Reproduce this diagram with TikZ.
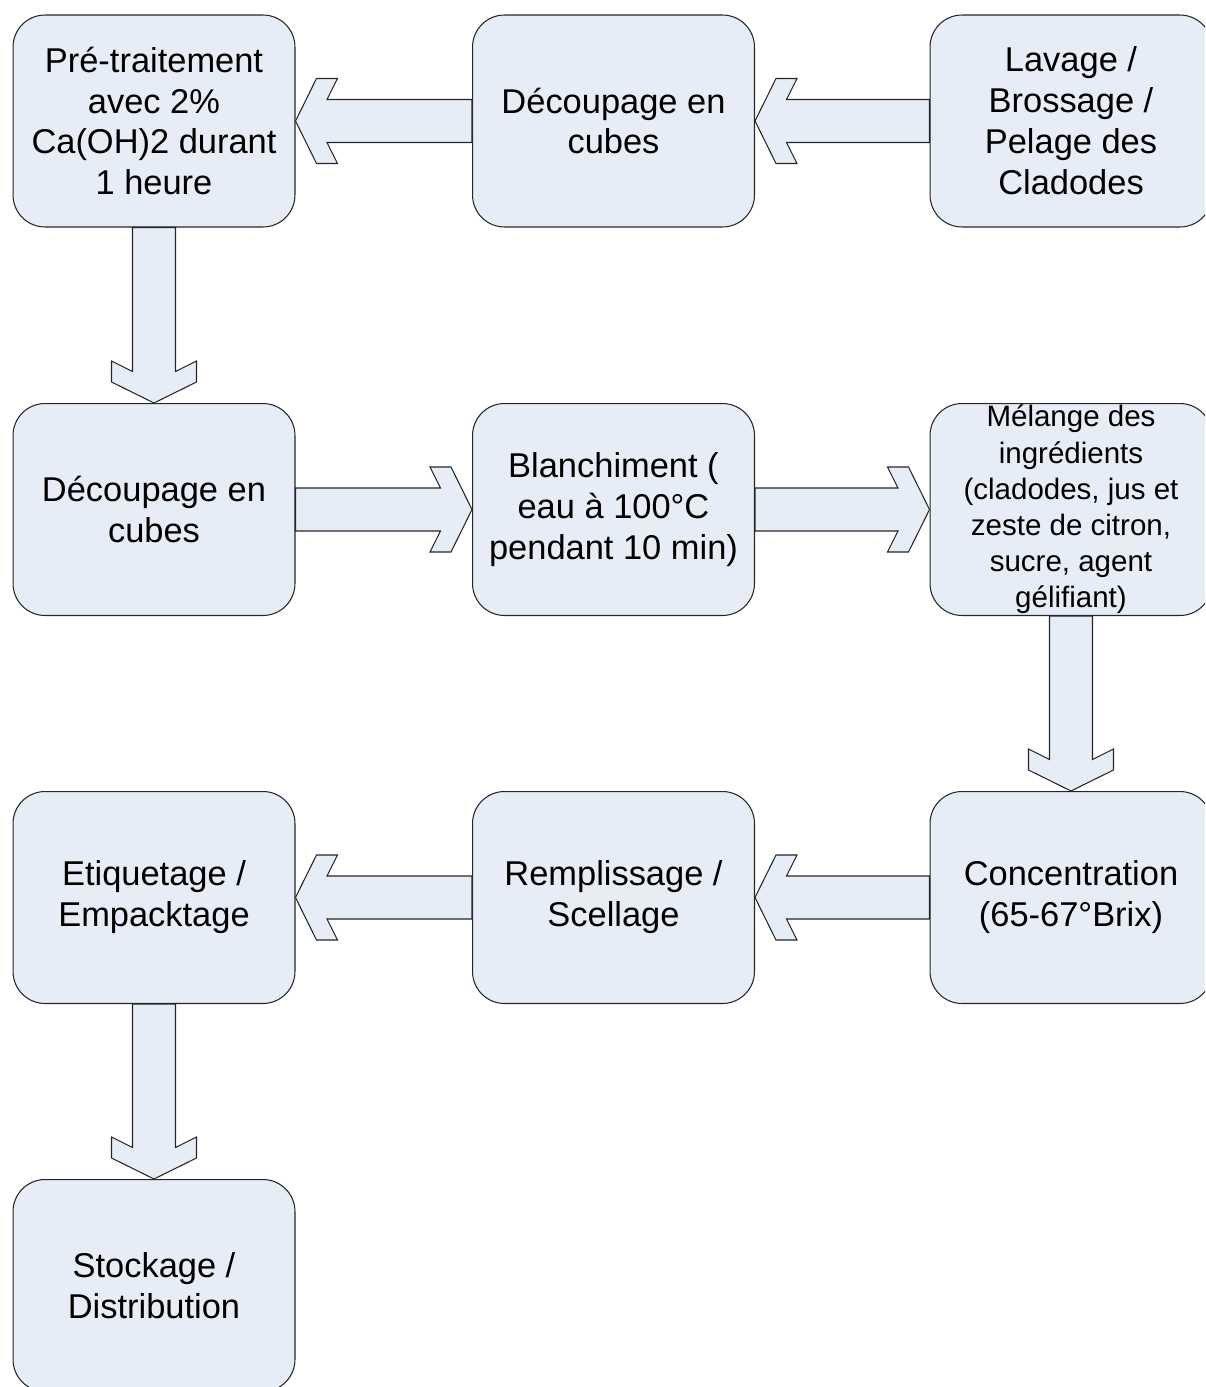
\documentclass[tikz,border=0pt]{standalone}
\usepackage{fontspec}
\setmainfont{Liberation Sans}
\usetikzlibrary{calc}

\definecolor{fondbleu}{RGB}{231,237,247}
\tikzset{
  etape/.style={draw=black!85,fill=fondbleu,line width=0.6pt,rounded corners=0.64cm,
    minimum width=5.64cm,minimum height=4.24cm,align=center,
    font=\fontsize{19.6pt}{23.3pt}\selectfont},
  petit/.style={inner ysep=0pt,font=\fontsize{16.8pt}{20.6pt}\selectfont},
  flechebloc/.style={draw=black!85,fill=fondbleu,line width=0.6pt,line join=miter}
}
\newcommand{\fleche}[2]{%
  \filldraw[flechebloc] (#2)
    -- ($(#2)!0.42cm!(#1)!0.85cm!90:(#1)$)
    -- ($(#2)!0.84cm!(#1)!0.85cm!90:(#1)$)
    -- ($(#2)!0.63cm!(#1)!0.43cm!90:(#1)$)
    -- ($(#1)!0.43cm!-90:(#2)$)
    -- ($(#1)!0.43cm!90:(#2)$)
    -- ($(#2)!0.63cm!(#1)!0.43cm!-90:(#1)$)
    -- ($(#2)!0.84cm!(#1)!0.85cm!-90:(#1)$)
    -- ($(#2)!0.42cm!(#1)!0.85cm!-90:(#1)$)
    -- cycle;}

\begin{document}
\begin{tikzpicture}[x=0.02cm,y=-0.02cm]
\path[use as bounding box,clip] (0,0) rectangle (1205,1387);

\node [etape] (lavage)    at (1071,  121) {Lavage /\\ Brossage /\\ Pelage des\\ Cladodes};
\node [etape] (decoupe1)  at (613.5, 121) {Découpage en\\ cubes};
\node [etape] (pretrait)  at ( 154,  121) {Pré-traitement\\ avec 2\%\\ Ca(OH)2 durant\\ 1 heure};
\node [etape] (decoupe2)  at ( 154, 509.5) {Découpage en\\ cubes};
\node [etape] (blanch)    at (613.5,509.5) {Blanchiment (\\ eau à 100°C\\ pendant 10 min)};
\node [etape,petit] (melange) at (1071,509.5) {Mélange des\\ ingrédients\\ (cladodes, jus et\\ zeste de citron,\\ sucre, agent\\ gélifiant)};
\node [etape] (concentr)  at (1071, 897.5) {Concentration\\ (65-67°Brix)};
\node [etape] (remplis)   at (613.5,897.5) {Remplissage /\\ Scellage};
\node [etape] (etiq)      at ( 154, 897.5) {Etiquetage /\\ Empacktage};
\node [etape] (stock)     at ( 154,1285.5) {Stockage /\\ Distribution};

\fleche{lavage.west}{decoupe1.east}
\fleche{decoupe1.west}{pretrait.east}
\fleche{pretrait.south}{decoupe2.north}
\fleche{decoupe2.east}{blanch.west}
\fleche{blanch.east}{melange.west}
\fleche{melange.south}{concentr.north}
\fleche{concentr.west}{remplis.east}
\fleche{remplis.west}{etiq.east}
\fleche{etiq.south}{stock.north}
\end{tikzpicture}
\end{document}
